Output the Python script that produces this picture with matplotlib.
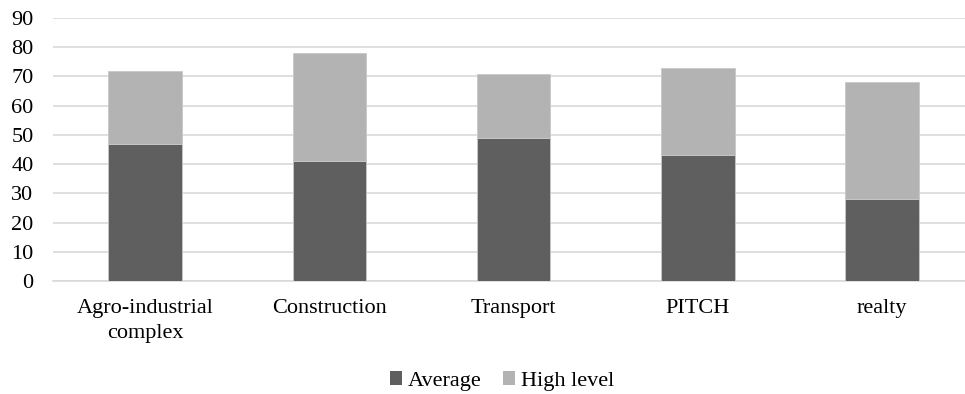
import matplotlib
matplotlib.use("Agg")
import matplotlib.pyplot as plt
from matplotlib.patches import Patch

plt.rcParams['font.family'] = ['Liberation Serif', 'DejaVu Serif']

categories = ["Agro-industrial\ncomplex", "Construction", "Transport", "PITCH", "realty"]
average = [47, 41, 49, 43, 28]
high_level = [25, 37, 22, 30, 40]
yticks = [0, 10, 20, 30, 40, 50, 60, 70, 80, 90]

dark = "#5f5f5f"
light = "#b3b3b3"
grid = "#d9d9d9"
fs = 16

W, H = 965, 394
fig = plt.figure(figsize=(W / 100, H / 100), dpi=100)
ax = fig.add_axes([53 / W, (H - 281) / H, (965 - 53) / W, (281 - 18) / H])

x = list(range(len(categories)))
bw = 0.40
ax.bar(x, average, width=bw, color=dark, edgecolor="#c8c8c8", linewidth=0.6, zorder=3)
ax.bar(x, high_level, width=bw, bottom=average, color=light, edgecolor="#c8c8c8",
       linewidth=0.6, zorder=3)

ax.set_xlim(-0.5, 4.45)
ax.set_ylim(0, 90)
ax.set_yticks(yticks)
ax.set_yticklabels([str(v) for v in yticks], fontsize=fs)
ax.set_xticks(x)
ax.set_xticklabels(categories, fontsize=fs, linespacing=1.45)
ax.tick_params(axis='both', length=0)
ax.tick_params(axis='y', pad=14)
ax.tick_params(axis='x', pad=13)

ax.yaxis.grid(True, color=grid, linewidth=1.2, zorder=0)
ax.set_axisbelow(True)
for side in ["top", "right", "left"]:
    ax.spines[side].set_visible(False)
ax.spines["bottom"].set_color(grid)
ax.spines["bottom"].set_linewidth(1.2)

handles = [Patch(facecolor=dark, label="Average"), Patch(facecolor=light, label="High level")]
fig.legend(handles=handles, loc="center", bbox_to_anchor=(502 / W, (H - 381) / H), ncol=2,
           frameon=False, fontsize=fs, handlelength=0.55, handleheight=0.55,
           handletextpad=0.25, columnspacing=0.95, borderpad=0, borderaxespad=0)

fig.savefig("out.png", dpi=100)
